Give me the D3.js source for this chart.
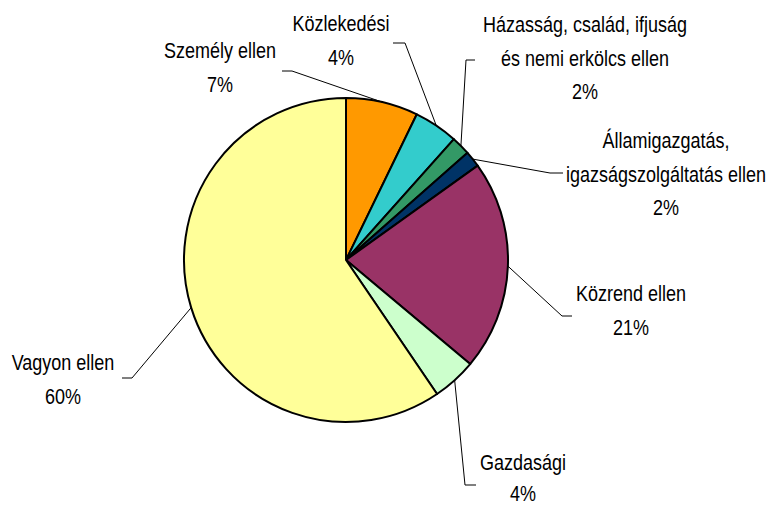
<!DOCTYPE html>
<html lang="hu">
<head>
<meta charset="UTF-8">
<title>Bűncselekmények megoszlása</title>
<script src="https://d3js.org/d3.v7.min.js"></script>
<style>
  body { margin: 0; background: #fff; }
  .lbl { font-family: "Liberation Sans", Arial, sans-serif; font-size: 18px; fill: #000; }
  .leader { fill: none; stroke: #000; stroke-width: 1; }
</style>
</head>
<body>
<svg id="chart" width="772" height="507"></svg>
<script>
// categories, clockwise from 12 o'clock
const categories = [
  ["Személy ellen"],
  ["Közlekedési"],
  ["Házasság, család, ifjuság", "és nemi erkölcs ellen"],
  ["Államigazgatás,", "igazságszolgáltatás ellen"],
  ["Közrend ellen"],
  ["Gazdasági"],
  ["Vagyon ellen"]
];
const values = [7.2, 4.4, 1.9, 1.6, 21.0, 4.4, 59.5];
const pctLabels = ["7%", "4%", "2%", "2%", "21%", "4%", "60%"];
const colors = ["#FF9900", "#33CCCC", "#339966", "#003366", "#993366", "#CCFFCC", "#FFFF99"];

// label placement: text centre x, first baseline y, line gap, leader elbow (x1 -> x2, y)
const labelPos = [
  {x: 220, y: 58,  gap: 33.5, ex1: 282, ex2: 292, ey: 71},
  {x: 341, y: 31,  gap: 33.5, ex1: 393, ex2: 405, ey: 43},
  {x: 585, y: 32,  gap: 33.5, ex1: 475, ex2: 466, ey: 60},
  {x: 666, y: 148, gap: 33.5, ex1: 563, ex2: 550, ey: 173},
  {x: 631, y: 301, gap: 33.5, ex1: 572, ex2: 562, ey: 316},
  {x: 523, y: 470, gap: 31,   ex1: 476, ex2: 465, ey: 485},
  {x: 63,  y: 370, gap: 33.5, ex1: 122, ex2: 132, ey: 378}
];

const svg = d3.select("#chart");
const cx = 346, cy = 260, r = 162;

const pie = d3.pie().sort(null).value(d => d)(values);
const arc = d3.arc().innerRadius(0).outerRadius(r);

const g = svg.append("g").attr("transform", `translate(${cx},${cy})`);

g.selectAll("path.slice")
  .data(pie)
  .enter().append("path")
  .attr("class", "slice")
  .attr("d", arc)
  .attr("fill", (d, i) => colors[i])
  .attr("stroke", "#000")
  .attr("stroke-width", 2)
  .attr("stroke-linejoin", "round");

// leader lines
pie.forEach((d, i) => {
  const a = (d.startAngle + d.endAngle) / 2;
  const px = cx + r * Math.sin(a), py = cy - r * Math.cos(a);
  const p = labelPos[i];
  svg.append("polyline")
    .attr("class", "leader")
    .attr("points", `${p.ex1},${p.ey} ${p.ex2},${p.ey} ${px},${py}`);
});

// labels (text is slightly tall in the original, so stretch vertically)
categories.forEach((lines, i) => {
  const p = labelPos[i];
  const all = lines.concat([pctLabels[i]]);
  all.forEach((t, k) => {
    svg.append("text")
      .attr("class", "lbl")
      .attr("text-anchor", "middle")
      .attr("transform", `translate(${p.x},${p.y + k * p.gap}) scale(1,1.18)`)
      .text(t);
  });
});
</script>
</body>
</html>
